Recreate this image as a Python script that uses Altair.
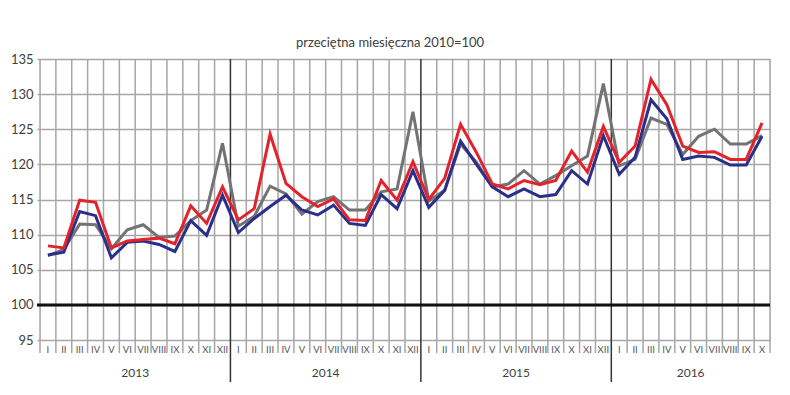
import altair as alt
import pandas as pd

month_names = ["I", "II", "III", "IV", "V", "VI", "VII", "VIII", "IX", "X", "XI", "XII"]
years = ["2013", "2014", "2015", "2016"]
year_centers = [6, 18, 30, 41]

red_vals = [108.4, 108.1, 114.9, 114.6, 108.1, 109.1, 109.3, 109.5, 108.7, 114.1, 111.6, 116.8,
            112.1, 113.7, 124.3, 117.3, 115.4, 114.0, 115.1, 112.1, 112.0, 117.7, 114.9, 120.4,
            115.0, 118.0, 125.7, 121.7, 117.2, 116.5, 117.7, 117.1, 117.7, 121.9, 118.9, 125.4,
            120.3, 122.6, 132.1, 128.5, 122.6, 121.7, 121.8, 120.7, 120.7, 125.9]
blue_vals = [107.1, 107.5, 113.3, 112.7, 106.7, 108.9, 109.1, 108.6, 107.6, 112.0, 109.9, 115.6,
             110.3, 112.3, 114.0, 115.6, 113.5, 112.8, 114.2, 111.6, 111.3, 115.7, 113.7, 119.1,
             113.9, 116.3, 123.3, 120.0, 116.8, 115.4, 116.5, 115.4, 115.7, 119.1, 117.2, 124.1,
             118.6, 121.0, 129.2, 126.5, 120.7, 121.2, 121.0, 119.9, 119.9, 124.0]
gray_vals = [107.0, 107.9, 111.5, 111.4, 108.0, 110.7, 111.4, 109.6, 109.8, 112.0, 113.5, 123.0,
             111.2, 112.6, 116.9, 115.8, 112.9, 114.7, 115.4, 113.5, 113.5, 116.1, 116.5, 127.5,
             114.8, 116.3, 122.9, 120.3, 116.8, 117.2, 119.1, 117.2, 118.4, 119.8, 121.2, 131.5,
             119.8, 120.7, 126.6, 125.7, 121.4, 124.0, 125.0, 122.9, 122.9, 124.1]

n = len(red_vals)
pos = [i + 0.5 for i in range(n)]
labels = [month_names[i % 12] for i in range(n)]

W, H = 730, 281
FONT = "Lato"

xs = alt.Scale(domain=[0, n], nice=False, zero=False)
ys = alt.Scale(domain=[95, 135], nice=False, zero=False)
yaxis = alt.Axis(values=list(range(95, 136, 5)), grid=True, gridColor="#a6a6a6", gridWidth=1.5,
                 domain=False, ticks=True, tickSize=3, tickColor="#a6a6a6", tickWidth=1.5,
                 labelFontSize=13, labelColor="#404040", labelPadding=4, labelFont=FONT, title=None)


def yenc(field):
    return alt.Y(field, scale=ys, axis=yaxis)


def series_chart(vals, color):
    df = pd.DataFrame({"pos": pos, "value": vals})
    return alt.Chart(df).mark_line(color=color, strokeWidth=3).encode(
        x=alt.X("pos:Q", scale=xs, axis=None), y=yenc("value:Q"))


boundaries = [b for b in range(0, n + 1) if b not in (12, 24, 36)]
vgrid = alt.Chart(pd.DataFrame({"b": boundaries})).mark_rule(color="#a6a6a6", strokeWidth=1.5).encode(
    x=alt.X("b:Q", scale=xs, axis=None), y=alt.value(0), y2=alt.value(H + 13))

ysep = alt.Chart(pd.DataFrame({"b": [12, 24, 36]})).mark_rule(color="#333333", strokeWidth=1.5).encode(
    x=alt.X("b:Q", scale=xs, axis=None), y=alt.value(0), y2=alt.value(H + 42))

hundred = alt.Chart(pd.DataFrame({"v": [100]})).mark_rule(color="#111111", strokeWidth=3).encode(
    y=yenc("v:Q"), x=alt.value(-3), x2=alt.value(W))

mlabels = alt.Chart(pd.DataFrame({"pos": pos, "lab": labels})).mark_text(
    fontSize=9.5, color="#555555", font=FONT, baseline="middle").encode(
    x=alt.X("pos:Q", scale=xs, axis=None), y=alt.value(H + 10), text="lab:N")

ylabels = alt.Chart(pd.DataFrame({"pos": year_centers, "lab": years})).mark_text(
    fontSize=12, color="#404040", font=FONT, baseline="middle").encode(
    x=alt.X("pos:Q", scale=xs, axis=None), y=alt.value(H + 33), text="lab:N")

chart = alt.layer(
    vgrid, ysep, hundred,
    series_chart(gray_vals, "#737373"),
    series_chart(blue_vals, "#2a2f8a"),
    series_chart(red_vals, "#e3232c"),
    mlabels, ylabels,
).properties(
    width=W, height=H,
    padding={"left": 32, "top": 51, "right": 12, "bottom": 50},
    autosize=alt.AutoSizeParams(type="none"),
    title=alt.Title("przeciętna miesięczna 2010=100", fontSize=13, font=FONT, fontWeight="normal",
                    color="#404040", offset=3, dx=-15, anchor="middle"),
).configure_view(stroke=None).configure(background="white")

chart.save("out.html", embed_options={"renderer": "svg", "actions": False})
